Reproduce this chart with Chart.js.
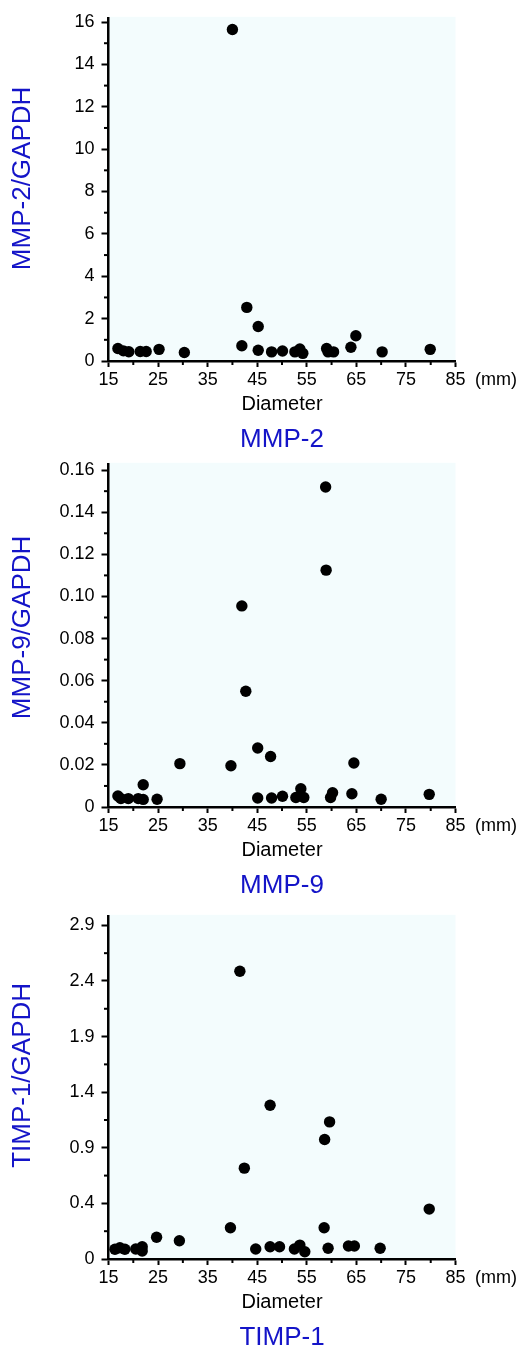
<!DOCTYPE html>
<html>
<head>
<meta charset="utf-8">
<script src="https://cdn.jsdelivr.net/npm/chart.js@4/dist/chart.umd.min.js"></script>
<style>
html,body{margin:0;padding:0;background:#fff;}
body{width:518px;height:1351px;position:relative;overflow:hidden;}
canvas{position:absolute;left:0;}
</style>
</head>
<body>
<canvas id="c1" width="518" height="450" style="top:0px"></canvas>
<canvas id="c2" width="518" height="450" style="top:446px"></canvas>
<canvas id="c3" width="518" height="453" style="top:898px"></canvas>
<script>
// ---------------- data ----------------
const xTicks = [15, 25, 35, 45, 55, 65, 75, 85];

const mmp2Diameter = [16.9,18.0,19.1,21.4,22.6,25.2,30.3,40.0,41.9,42.9,45.2,45.2,47.9,50.1,52.6,53.6,54.2,59.0,59.3,60.4,63.9,64.9,70.2,79.9];
const mmp2Ratio    = [0.59,0.48,0.44,0.45,0.45,0.55,0.40,15.65,0.72,2.53,1.63,0.51,0.43,0.47,0.43,0.57,0.36,0.59,0.43,0.43,0.65,1.19,0.43,0.55];
const mmp2YTicks   = [0, 2, 4, 6, 8, 10, 12, 14, 16];

const mmp9Diameter = [16.9,17.5,19.0,21.0,22.0,22.0,24.8,29.4,39.7,41.9,42.7,45.1,45.1,47.7,47.9,50.1,52.8,53.8,54.4,58.8,58.9,59.8,60.2,64.1,64.5,70.0,79.7];
const mmp9Ratio    = [0.0052,0.0040,0.0040,0.0040,0.0106,0.0036,0.0037,0.0206,0.0196,0.0955,0.0550,0.0280,0.0043,0.0240,0.0043,0.0051,0.0045,0.0087,0.0045,0.1520,0.1125,0.0045,0.0068,0.0063,0.0209,0.0037,0.0060];
const mmp9YTicks   = [0, 0.02, 0.04, 0.06, 0.08, 0.10, 0.12, 0.14, 0.16];

const timp1Diameter = [16.3,17.3,18.3,20.5,21.8,21.8,24.7,29.3,39.6,41.5,42.4,44.7,47.6,47.6,49.5,52.5,53.6,54.6,58.5,58.6,59.3,59.6,63.4,64.6,69.8,79.7];
const timp1Ratio    = [0.070,0.081,0.070,0.072,0.088,0.057,0.156,0.131,0.225,2.487,0.717,0.072,0.088,1.283,0.088,0.072,0.100,0.052,0.225,0.975,0.077,1.133,0.093,0.093,0.077,0.359];
const timp1YTicks   = [0, 0.4, 0.9, 1.4, 1.9, 2.4, 2.9];

// ---------------- styling ----------------
const FONT = '"Liberation Sans", Arial, Helvetica, sans-serif';
const BLUE = '#1414C8';
const BG = '#F3FCFD';

// scale whose tick marks are evenly spaced, whatever their values
function registerTickSpacedScale(id, ticks) {
  const n = ticks.length;
  const fwd = v => {
    if (v <= ticks[0]) return (v - ticks[0]) / (ticks[1] - ticks[0]);
    for (let i = 0; i < n - 1; i++) {
      if (v <= ticks[i + 1]) return i + (v - ticks[i]) / (ticks[i + 1] - ticks[i]);
    }
    return (n - 1) + (v - ticks[n - 1]) / (ticks[n - 1] - ticks[n - 2]);
  };
  const inv = u => {
    if (u <= 0) return ticks[0] + u * (ticks[1] - ticks[0]);
    if (u >= n - 1) return ticks[n - 1] + (u - n + 1) * (ticks[n - 1] - ticks[n - 2]);
    const i = Math.floor(u);
    return ticks[i] + (u - i) * (ticks[i + 1] - ticks[i]);
  };
  class S extends Chart.LinearScale {
    getPixelForValue(v) { return super.getPixelForValue(fwd(v)); }
    getValueForPixel(p) { return inv(super.getValueForPixel(p)); }
  }
  S.id = id;
  S.defaults = Chart.LinearScale.defaults;
  Chart.register(S);
  return fwd;
}
const timp1Fwd = registerTickSpacedScale('timp1Scale', timp1YTicks);

const panelDecor = {
  id: 'panelDecor',
  beforeDraw(chart, args, opts) {
    const {ctx, chartArea: a} = chart;
    ctx.save();
    ctx.fillStyle = BG;
    ctx.fillRect(a.left, a.top - 1, a.right - a.left, a.bottom - a.top + 1);
    ctx.restore();
  },
  afterDraw(chart, args, opts) {
    const {ctx, chartArea: a} = chart;
    const x = chart.scales.x, y = chart.scales.y;
    ctx.save();
    ctx.strokeStyle = '#000';
    ctx.lineWidth = 2;
    for (let i = 0; i < y.ticks.length - 1; i++) {
      const p = (y.getPixelForValue(y.ticks[i].value) + y.getPixelForValue(y.ticks[i + 1].value)) / 2;
      ctx.beginPath(); ctx.moveTo(a.left - 4.5, p); ctx.lineTo(a.left, p); ctx.stroke();
    }
    for (let i = 0; i < x.ticks.length - 1; i++) {
      const p = (x.getPixelForValue(x.ticks[i].value) + x.getPixelForValue(x.ticks[i + 1].value)) / 2;
      ctx.beginPath(); ctx.moveTo(p, a.bottom); ctx.lineTo(p, a.bottom + 4); ctx.stroke();
    }
    ctx.fillStyle = '#000';
    ctx.font = '18px ' + FONT;
    ctx.textAlign = 'left';
    ctx.textBaseline = 'middle';
    ctx.fillText('(mm)', a.right + 19.5, a.bottom + 19.5);
    ctx.font = '20px ' + FONT;
    ctx.textAlign = 'center';
    ctx.textBaseline = 'alphabetic';
    ctx.fillText(opts.xTitle, (a.left + a.right) / 2, a.bottom + 48.5);
    ctx.fillStyle = BLUE;
    ctx.font = '26px ' + FONT;
    ctx.fillText(opts.caption, (a.left + a.right) / 2, a.bottom + 86);
    ctx.translate(23, (a.top + a.bottom) / 2 + opts.yTitleShift);
    ctx.rotate(-Math.PI / 2);
    ctx.font = '26px ' + FONT;
    ctx.textBaseline = 'middle';
    ctx.fillText(opts.yTitle, 0, 0);
    ctx.restore();
  }
};

function makeChart(canvasId, xs, ys, yTickValues, yType, yMin, yMax, fmt, decor, padTop, padBottom) {
  const pts = xs.map((v, i) => ({x: v, y: ys[i]}));
  return new Chart(document.getElementById(canvasId), {
    type: 'scatter',
    data: {
      datasets: [{
        data: pts,
        backgroundColor: '#000',
        borderColor: '#000',
        borderWidth: 0,
        pointRadius: 5.7,
        pointHoverRadius: 5.7
      }]
    },
    plugins: [panelDecor],
    options: {
      responsive: false,
      animation: false,
      events: [],
      layout: {padding: {top: padTop, left: 0, right: 62.5, bottom: padBottom}},
      plugins: {
        legend: {display: false},
        tooltip: {enabled: false},
        panelDecor: decor
      },
      scales: {
        x: {
          type: 'linear',
          min: 15, max: 85,
          bounds: 'data',
          afterBuildTicks: s => { s.ticks = xTicks.map(v => ({value: v})); },
          afterFit: s => { s.height = 30; },
          border: {display: true, color: '#000', width: 2.5},
          grid: {display: true, drawOnChartArea: false, drawTicks: true, tickLength: 6, tickColor: '#000', tickWidth: 2},
          ticks: {color: '#000', font: {family: FONT, size: 18}, padding: 2, autoSkip: false, maxRotation: 0, minRotation: 0,
                  callback: v => String(v)}
        },
        y: {
          type: yType,
          min: yMin, max: yMax,
          bounds: 'data',
          afterBuildTicks: s => { s.ticks = yTickValues.map(v => ({value: v})); },
          afterFit: s => { s.width = 108.5; },
          border: {display: true, color: '#000', width: 2.5},
          grid: {display: true, drawOnChartArea: false, drawTicks: true, tickLength: 7, tickColor: '#000', tickWidth: 2},
          ticks: {color: '#000', font: {family: FONT, size: 18}, padding: 7, autoSkip: false,
                  callback: v => fmt(v)}
        }
      }
    }
  });
}

makeChart('c1', mmp2Diameter, mmp2Ratio, mmp2YTicks, 'linear', 0, 16.2,
  v => v === 0 ? '0' : String(v),
  {yTitle: 'MMP-2/GAPDH', caption: 'MMP-2', xTitle: 'Diameter', yTitleShift: -11}, 14, 59);

makeChart('c2', mmp9Diameter, mmp9Ratio, mmp9YTicks, 'linear', 0, 0.163,
  v => v === 0 ? '0' : v.toFixed(2),
  {yTitle: 'MMP-9/GAPDH', caption: 'MMP-9', xTitle: 'Diameter', yTitleShift: -8}, 14, 59);

makeChart('c3', timp1Diameter, timp1Ratio, timp1YTicks, 'timp1Scale', 0, timp1Fwd(2.986),
  v => v === 0 ? '0' : v.toFixed(1),
  {yTitle: 'TIMP-1/GAPDH', caption: 'TIMP-1', xTitle: 'Diameter', yTitleShift: -12}, 14.7, 62);
</script>
</body>
</html>
